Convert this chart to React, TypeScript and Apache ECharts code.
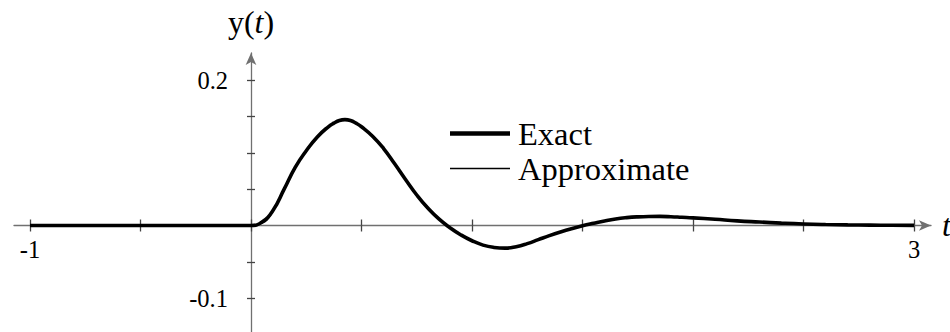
import React, { useEffect, useRef } from "react";
import * as echarts from "echarts";

// Sample times and responses
const tValues = [
  -1, -0.5, 0, 0.05, 0.1, 0.15, 0.2, 0.25, 0.3, 0.35, 0.375, 0.4, 0.425,
  0.45, 0.475, 0.5, 0.55, 0.6, 0.65, 0.7, 0.75, 0.8, 0.85, 0.9, 0.95, 1.0,
  1.05, 1.1, 1.15, 1.2, 1.25, 1.3, 1.35, 1.4, 1.45, 1.5, 1.55, 1.6, 1.65,
  1.7, 1.75, 1.8, 1.85, 1.9, 1.95, 2.0, 2.1, 2.2, 2.3, 2.4, 2.5, 2.6, 2.7,
  2.8, 2.9, 3.0,
];
const exactValues = [
  0, 0, 0, 0.005, 0.021, 0.05, 0.08, 0.103, 0.122, 0.136, 0.141, 0.1447,
  0.1458, 0.1447, 0.141, 0.136, 0.123, 0.106, 0.085, 0.063, 0.042, 0.024,
  0.009, -0.003, -0.013, -0.021, -0.027, -0.0302, -0.0312, -0.0292, -0.025,
  -0.0195, -0.014, -0.009, -0.0045, -0.0005, 0.003, 0.0063, 0.009, 0.0108,
  0.0119, 0.0124, 0.0125, 0.0121, 0.0113, 0.0105, 0.0085, 0.0064, 0.0048,
  0.0033, 0.0021, 0.0013, 0.0008, 0.0005, 0.0003, 0.0002,
];
const approxValues = [
  0, 0, 0, 0.003, 0.02, 0.05, 0.08, 0.103, 0.122, 0.136, 0.141, 0.1447,
  0.1458, 0.1447, 0.141, 0.136, 0.123, 0.106, 0.085, 0.063, 0.042, 0.024,
  0.009, -0.003, -0.013, -0.021, -0.027, -0.0302, -0.0312, -0.0292, -0.025,
  -0.0195, -0.014, -0.009, -0.0045, -0.0005, 0.003, 0.0063, 0.009, 0.0108,
  0.0119, 0.0124, 0.0125, 0.0121, 0.0113, 0.0105, 0.0085, 0.0064, 0.0048,
  0.0033, 0.0021, 0.0013, 0.0008, 0.0005, 0.0003, 0.0002,
];

// Axis ticks and labels
const xTicks = [-1, -0.5, 0, 0.5, 1, 1.5, 2, 2.5, 3];
const xLabels = [-1, 3];
const yTicks = [-0.1, -0.05, 0, 0.05, 0.1, 0.15, 0.2];
const yLabels = [-0.1, 0.2];

const X_MIN = -1.0724;
const X_MAX = 3.0769;
const Y_MIN = -0.1467;
const Y_MAX = 0.2376;

// Plot frame in pixels
const W = 950;
const H = 332;
const LEFT = 14;
const RIGHT = 19;
const TOP = 53;
const BOTTOM = 0;

const FONT = "'Liberation Serif', 'Times New Roman', serif";
const AXIS_COLOR = "#707070";
const TICK_COLOR = "#444";

export default function App() {
  const ref = useRef<HTMLDivElement>(null);

  useEffect(() => {
    if (!ref.current) return;
    const chart = echarts.init(ref.current, undefined, { renderer: "svg" });

    const plotW = W - LEFT - RIGHT;
    const plotH = H - TOP - BOTTOM;
    // pixel positions of t = 0 and y = 0 inside the frame
    const zeroX = LEFT + ((0 - X_MIN) / (X_MAX - X_MIN)) * plotW;
    const zeroY = TOP + ((Y_MAX - 0) / (Y_MAX - Y_MIN)) * plotH;

    const fmt = (v: number) => String(v);
    const hidden = {
      show: false,
      axisLine: { show: false, onZero: false },
      axisTick: { show: false },
      axisLabel: { show: false },
      splitLine: { show: false },
    };
    const xRange = { type: "value" as const, min: X_MIN, max: X_MAX };
    const yRange = { type: "value" as const, min: Y_MIN, max: Y_MAX };
    const tickLine = { color: TICK_COLOR, width: 1.3 };
    const labelFont = { fontFamily: FONT, fontSize: 24.5, color: "#000" };
    const italic = { fontFamily: FONT, fontSize: 32, fontStyle: "italic" as const, color: "#000" };

    chart.setOption({
      animation: false,
      grid: [
        // 0: curves
        { left: LEFT, right: RIGHT, top: TOP, bottom: BOTTOM, outerBoundsMode: "none", containLabel: false },
        // 1: horizontal axis, its bottom edge sits on y = 0
        { left: LEFT, right: RIGHT, top: TOP, bottom: H - zeroY, outerBoundsMode: "none", containLabel: false },
        // 2: vertical axis, its left edge sits on t = 0
        { left: zeroX, right: RIGHT, top: TOP, bottom: BOTTOM, outerBoundsMode: "none", containLabel: false },
      ],
      legend: {
        orient: "vertical",
        left: 450,
        top: 117,
        padding: 0,
        itemWidth: 60,
        itemHeight: 14,
        itemGap: 2,
        data: [
          { name: "Exact", icon: "path://M0,0M60,14M0,4.8H60V9.2H0Z" },
          { name: "Approximate", icon: "path://M0,0M60,14M0,6.3H60V7.7H0Z" },
        ],
        itemStyle: { color: "#000" },
        textStyle: {
          fontFamily: FONT,
          fontSize: 32.5,
          lineHeight: 30,
          color: "#000",
          padding: [0, 0, 0, 3],
        },
      },
      xAxis: [
        { ...xRange, gridIndex: 0, ...hidden },
        {
          ...xRange,
          gridIndex: 1,
          position: "bottom",
          name: "{it|t}",
          nameLocation: "end",
          nameGap: 11,
          nameTextStyle: { rich: { it: italic } },
          splitLine: { show: false },
          axisLine: {
            show: true,
            onZero: false,
            symbol: ["none", "arrow"],
            symbolSize: [8, 12],
            lineStyle: { color: AXIS_COLOR, width: 1.3 },
          },
          axisTick: { show: true, customValues: xTicks, length: 6, lineStyle: tickLine },
          axisLabel: {
            show: true,
            customValues: xLabels,
            formatter: fmt,
            margin: 12,
            ...labelFont,
          },
        },
        {
          ...xRange,
          gridIndex: 1,
          position: "bottom",
          splitLine: { show: false },
          axisLine: { show: false, onZero: false },
          axisTick: { show: true, inside: true, customValues: xTicks, length: 6, lineStyle: tickLine },
          axisLabel: { show: false },
        },
        { ...xRange, gridIndex: 2, ...hidden },
      ],
      yAxis: [
        { ...yRange, gridIndex: 0, ...hidden },
        { ...yRange, gridIndex: 1, ...hidden },
        {
          ...yRange,
          gridIndex: 2,
          position: "left",
          name: "y({it|t})",
          nameLocation: "end",
          nameGap: 15,
          nameTextStyle: { ...italic, fontStyle: "normal", rich: { it: italic } },
          splitLine: { show: false },
          axisLine: {
            show: true,
            onZero: false,
            symbol: ["none", "arrow"],
            symbolSize: [8, 12],
            lineStyle: { color: AXIS_COLOR, width: 1.3 },
          },
          axisTick: { show: true, customValues: yTicks, length: 4, lineStyle: tickLine },
          axisLabel: {
            show: true,
            customValues: yLabels,
            formatter: fmt,
            margin: 23,
            ...labelFont,
          },
        },
        {
          ...yRange,
          gridIndex: 2,
          position: "left",
          splitLine: { show: false },
          axisLine: { show: false, onZero: false },
          axisTick: { show: true, inside: true, customValues: yTicks, length: 4, lineStyle: tickLine },
          axisLabel: { show: false },
        },
      ],
      series: [
        {
          name: "Exact",
          type: "line",
          xAxisIndex: 0,
          yAxisIndex: 0,
          data: tValues.map((t, i) => [t, exactValues[i]]),
          symbol: "none",
          smooth: 0.5,
          lineStyle: { color: "#000", width: 3.6 },
          itemStyle: { color: "#000" },
          z: 3,
        },
        {
          name: "Approximate",
          type: "line",
          xAxisIndex: 0,
          yAxisIndex: 0,
          data: tValues.map((t, i) => [t, approxValues[i]]),
          symbol: "none",
          smooth: 0.5,
          lineStyle: { color: "#000", width: 1.3 },
          itemStyle: { color: "#000" },
          z: 4,
        },
      ],
    });

    return () => chart.dispose();
  }, []);

  return (
    <div
      ref={ref}
      style={{
        position: "fixed",
        left: 0,
        top: 0,
        width: W,
        height: H,
        background: "#fff",
      }}
    />
  );
}
